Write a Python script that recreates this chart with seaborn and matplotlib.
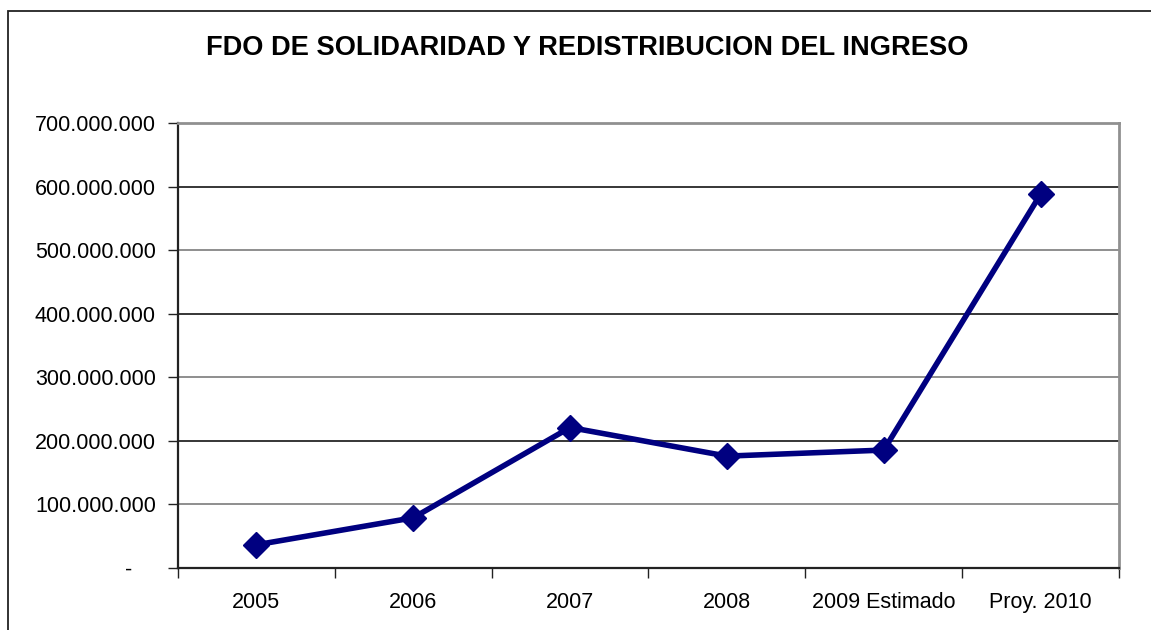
import matplotlib
matplotlib.use("Agg")
import matplotlib.pyplot as plt
import matplotlib.patches as mpatches
from matplotlib.ticker import FixedLocator, FuncFormatter
import seaborn as sns
import pandas as pd

# Fondo de Solidaridad y Redistribución del Ingreso, por año
periodos = ["2005", "2006", "2007", "2008", "2009 Estimado", "Proy. 2010"]
montos = [36_500_000, 79_000_000, 221_000_000, 176_000_000, 185_500_000, 588_000_000]
titulo = "FDO DE SOLIDARIDAD Y REDISTRIBUCION DEL INGRESO"
y_ticks = [0, 100_000_000, 200_000_000, 300_000_000, 400_000_000,
           500_000_000, 600_000_000, 700_000_000]

df = pd.DataFrame({"periodo": periodos, "monto": montos})

sns.set_theme(style="white")
plt.rcParams["font.family"] = ["Liberation Sans", "DejaVu Sans"]

fig = plt.figure(figsize=(11.51, 6.30), dpi=100)
fig.patch.set_facecolor("white")

# marco exterior del gráfico
fig.patches.append(mpatches.Rectangle(
    (8 / 1151, -0.05), 1.2, 1 - 11 / 630 + 0.05,
    transform=fig.transFigure, fill=False, edgecolor="#222222", linewidth=1.3))

ax = fig.add_axes([178 / 1151, 62 / 630, (1119 - 178) / 1151, (568 - 123) / 630])

sns.lineplot(data=df, x="periodo", y="monto", ax=ax, sort=False,
             color="#000080", linewidth=4, marker="D", markersize=13,
             markeredgecolor="#000080", markeredgewidth=1)

ax.set_xlim(-0.5, len(periodos) - 0.5)
ax.set_ylim(0, 700_000_000)

# líneas de división horizontales
for i, v in enumerate(y_ticks[1:-1]):
    ax.axhline(v, color="#000000" if i % 2 else "#707070", linewidth=1.1, zorder=0.5)


def formato_contable(v, pos):
    # cero como guion, miles separados con punto
    if v == 0:
        return "-    "
    return f"{int(v):,}".replace(",", ".")


ax.yaxis.set_major_locator(FixedLocator(y_ticks))
ax.yaxis.set_major_formatter(FuncFormatter(formato_contable))
ax.set_xticks(range(len(periodos)))
ax.set_xticklabels(periodos)
ax.xaxis.set_minor_locator(FixedLocator([i - 0.5 for i in range(len(periodos) + 1)]))
ax.tick_params(axis="x", which="major", length=0, pad=17, labelsize=15.5, colors="#000000")
ax.tick_params(axis="x", which="minor", bottom=True, length=7, width=1, color="#222222")
ax.tick_params(axis="y", left=True, length=7, width=1, color="#222222",
               pad=9, labelsize=15.5, labelcolor="#000000")

ax.set_xlabel("")
ax.set_ylabel("")

for side in ["top", "right"]:
    ax.spines[side].set_color("#909090")
    ax.spines[side].set_linewidth(2)
for side in ["left", "bottom"]:
    ax.spines[side].set_color("#222222")
    ax.spines[side].set_linewidth(1.6)

fig.text(587 / 1151, 1 - 48 / 630, titulo, ha="center", va="center",
         fontsize=19.6, fontweight="bold", color="#000000")

fig.savefig("out.png", dpi=100, facecolor="white")
